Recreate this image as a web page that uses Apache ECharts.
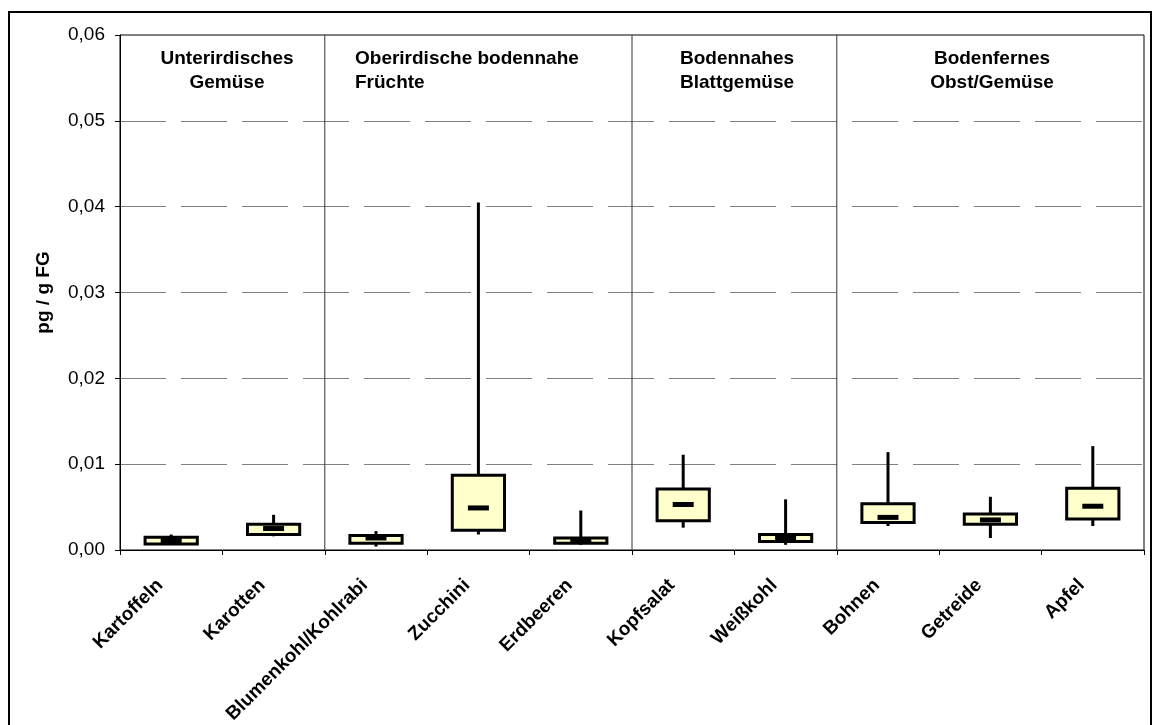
<!DOCTYPE html>
<html>
<head>
<meta charset="utf-8">
<script src="https://cdn.jsdelivr.net/npm/echarts@6/dist/echarts.min.js"></script>
<style>
html,body{margin:0;padding:0;background:#fff;}
#chart{width:1153px;height:725px;}
</style>
</head>
<body>
<div id="chart"></div>
<script>
// ---- data ----
const categories = ['Kartoffeln','Karotten','Blumenkohl/Kohlrabi','Zucchini','Erdbeeren','Kopfsalat','Weißkohl','Bohnen','Getreide','Apfel'];
const minValues    = [0.0006, 0.0016, 0.0004, 0.0018, 0.0006, 0.0026, 0.0006, 0.0028, 0.0014, 0.0028];
const q1Values     = [0.0007, 0.0018, 0.0008, 0.0023, 0.0008, 0.0034, 0.0010, 0.0032, 0.0030, 0.0036];
const medianValues = [0.0011, 0.0025, 0.0014, 0.0049, 0.0011, 0.0053, 0.0014, 0.0038, 0.0035, 0.0051];
const q3Values     = [0.0015, 0.0030, 0.0017, 0.0087, 0.0014, 0.0071, 0.0018, 0.0054, 0.0042, 0.0072];
const maxValues    = [0.0018, 0.0041, 0.0022, 0.0405, 0.0046, 0.0111, 0.0059, 0.0114, 0.0062, 0.0121];
const groupSizes   = [2, 3, 2, 3];
const groupNames   = ['Unterirdisches\nGemüse','Oberirdische bodennahe\nFrüchte','Bodennahes\nBlattgemüse','Bodenfernes\nObst/Gemüse'];
const yTicks = [0, 0.01, 0.02, 0.03, 0.04, 0.05, 0.06];
const yAxisName = 'pg / g FG';

// group boundaries (cumulative)
const boundaries = [];
let acc = 0;
for (let i = 0; i < groupSizes.length - 1; i++) { acc += groupSizes[i]; boundaries.push(acc); }

const boxData = categories.map((c, i) => [i, minValues[i], q1Values[i], medianValues[i], q3Values[i], maxValues[i]]);

const FONT = '"Liberation Sans", Arial, sans-serif';
const FS = 19;

function renderBox(params, api) {
  const x = api.value(0);
  const pMin = api.coord([x, api.value(1)]);
  const pQ1 = api.coord([x, api.value(2)]);
  const pMed = api.coord([x, api.value(3)]);
  const pQ3 = api.coord([x, api.value(4)]);
  const pMax = api.coord([x, api.value(5)]);
  const bw = api.size([1, 0])[0] * 0.51;
  return {
    type: 'group',
    children: [
      { type: 'line', shape: { x1: pMin[0], y1: pMin[1], x2: pMax[0], y2: pMax[1] }, style: { stroke: '#000', lineWidth: 3 } },
      { type: 'rect', shape: { x: pQ3[0] - bw / 2, y: pQ3[1], width: bw, height: pQ1[1] - pQ3[1] }, style: { fill: '#FFFFCC', stroke: '#000', lineWidth: 3 } },
      { type: 'rect', shape: { x: pMed[0] - 10.5, y: pMed[1] - 2.5, width: 21, height: 5 }, style: { fill: '#000' } }
    ]
  };
}

function renderDivider(params, api) {
  const b = api.value(0);
  const p0 = api.coord([b, yTicks[0]]);
  const p1 = api.coord([b, yTicks[yTicks.length - 1]]);
  return { type: 'line', shape: { x1: p0[0], y1: p0[1], x2: p1[0], y2: p1[1] }, style: { stroke: '#333', lineWidth: 1 } };
}

const chart = echarts.init(document.getElementById('chart'), null, { renderer: 'canvas' });
const titleStyle = { fontFamily: FONT, fontSize: FS, fontWeight: 'bold', fill: '#000', lineHeight: 24 };
chart.setOption({
  animation: false,
  backgroundColor: '#fff',
  textStyle: { fontFamily: FONT },
  grid: { left: 120, right: 9, top: 35, bottom: 175, containLabel: false, outerBoundsMode: 'none', show: true, borderColor: '#000', borderWidth: 1 },
  xAxis: [
    {
      type: 'category', data: categories, boundaryGap: true,
      axisLine: { lineStyle: { color: '#000', width: 1 } },
      axisTick: { show: true, length: 5, lineStyle: { color: '#000' } },
      axisLabel: { rotate: 45, interval: 0, margin: 21, padding: [0, 16, 0, 0], color: '#000', fontSize: FS, fontWeight: 'bold', fontFamily: FONT },
      splitLine: { show: false }
    },
    { type: 'value', min: 0, max: categories.length, show: false }
  ],
  yAxis: {
    type: 'value', min: yTicks[0], max: yTicks[yTicks.length - 1], interval: 0.01,
    name: yAxisName, nameLocation: 'middle', nameGap: 67, nameRotate: 90,
    nameTextStyle: { fontSize: FS, fontWeight: 'bold', color: '#000', fontFamily: FONT },
    axisLine: { show: true, lineStyle: { color: '#000', width: 1 } },
    axisTick: { show: true, length: 5, lineStyle: { color: '#000' } },
    axisLabel: { margin: 15, color: '#000', fontSize: FS, fontFamily: FONT, formatter: v => v.toFixed(2).replace('.', ',') },
    splitLine: { show: true, lineStyle: { color: '#808080', width: 1, type: [46, 15] } }
  },
  series: [
    { type: 'custom', xAxisIndex: 1, yAxisIndex: 0, data: boundaries.map(b => [b]), encode: { x: 0 }, renderItem: renderDivider, silent: true, z: 1 },
    { type: 'custom', xAxisIndex: 0, yAxisIndex: 0, data: boxData, encode: { x: 0, y: [1, 2, 3, 4, 5] }, renderItem: renderBox, z: 3 }
  ],
  graphic: [
    { type: 'rect', shape: { x: 9, y: 12, width: 1142, height: 730 }, style: { fill: 'none', stroke: '#000', lineWidth: 2 }, silent: true, z: 100 },
    { type: 'text', x: 227, y: 47, style: Object.assign({ text: groupNames[0], textAlign: 'center', textVerticalAlign: 'top' }, titleStyle), z: 100 },
    { type: 'text', x: 355, y: 47, style: Object.assign({ text: groupNames[1], textAlign: 'left', textVerticalAlign: 'top' }, titleStyle), z: 100 },
    { type: 'text', x: 680, y: 47, style: Object.assign({ text: groupNames[2], textAlign: 'left', textVerticalAlign: 'top' }, titleStyle), z: 100 },
    { type: 'text', x: 992, y: 47, style: Object.assign({ text: groupNames[3], textAlign: 'center', textVerticalAlign: 'top' }, titleStyle), z: 100 }
  ]
});
</script>
</body>
</html>
